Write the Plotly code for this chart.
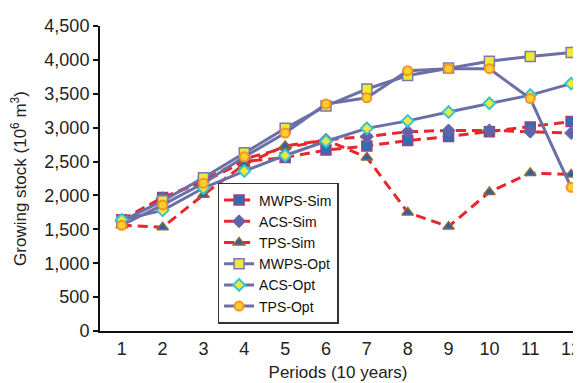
import plotly.graph_objects as go

periods = [1, 2, 3, 4, 5, 6, 7, 8, 9, 10, 11, 12]

mwps_sim = [1640, 1970, 2200, 2500, 2560, 2670, 2730, 2810, 2870, 2940, 3010, 3090]
acs_sim = [1620, 1960, 2220, 2540, 2700, 2820, 2870, 2940, 2960, 2960, 2940, 2920]
tps_sim = [1560, 1530, 2010, 2460, 2730, 2820, 2560, 1750, 1540, 2050, 2330, 2310]
mwps_opt = [1620, 1920, 2260, 2630, 2990, 3320, 3570, 3770, 3880, 3980, 4050, 4110]
acs_opt = [1640, 1780, 2110, 2360, 2590, 2800, 2990, 3100, 3230, 3360, 3480, 3650]
tps_opt = [1560, 1860, 2180, 2570, 2920, 3350, 3440, 3840, 3870, 3870, 3430, 2120]

y_ticks = [0, 500, 1000, 1500, 2000, 2500, 3000, 3500, 4000, 4500]

RED = "#E8262B"
SLATE = "#6B6FA8"
FONT = "Liberation Sans, Arial, sans-serif"

fig = go.Figure()

sim_dash = "10px,6px"

fig.add_trace(go.Scatter(
    x=periods, y=mwps_sim, name="MWPS-Sim", mode="lines+markers",
    line=dict(color=RED, width=3, dash=sim_dash),
    marker=dict(symbol="square", size=10, color="#2F6DB5",
                line=dict(color="#A0407F", width=1.5))))
fig.add_trace(go.Scatter(
    x=periods, y=acs_sim, name="ACS-Sim", mode="lines+markers",
    line=dict(color=RED, width=3, dash=sim_dash),
    marker=dict(symbol="diamond", size=10, color="#5F63A8",
                line=dict(color="#6A6AAE", width=1))))
fig.add_trace(go.Scatter(
    x=periods, y=tps_sim, name="TPS-Sim", mode="lines+markers",
    line=dict(color=RED, width=3, dash=sim_dash),
    marker=dict(symbol="triangle-up", size=10, color="#2E5FA8",
                line=dict(color="#8B6B3D", width=1.5))))
fig.add_trace(go.Scatter(
    x=periods, y=mwps_opt, name="MWPS-Opt", mode="lines+markers",
    line=dict(color=SLATE, width=3),
    marker=dict(symbol="square", size=10, color="#EFE83A",
                line=dict(color="#7A7AB0", width=1.5))))
fig.add_trace(go.Scatter(
    x=periods, y=acs_opt, name="ACS-Opt", mode="lines+markers",
    line=dict(color=SLATE, width=3),
    marker=dict(symbol="diamond", size=9, color="#F2E83A",
                line=dict(color="#35C6D6", width=2))))
fig.add_trace(go.Scatter(
    x=periods, y=tps_opt, name="TPS-Opt", mode="lines+markers",
    line=dict(color=SLATE, width=3),
    marker=dict(symbol="circle", size=9, color="#F8D030",
                line=dict(color="#F7941D", width=2))))

fig.update_layout(
    width=581, height=383,
    margin=dict(l=92, r=8, t=15, b=60),
    paper_bgcolor="white", plot_bgcolor="white",
    font=dict(family=FONT, color="#222222", size=18),
    legend=dict(
        x=0.247, y=0.023, xanchor="left", yanchor="bottom",
        bgcolor="white", bordercolor="#333333", borderwidth=1.5,
        font=dict(family=FONT, size=14, color="#111111"),
        tracegroupgap=0, itemwidth=30,
    ),
    xaxis=dict(
        range=[0.467, 12.12], tickmode="array", tickvals=periods,
        ticktext=[str(p) for p in periods],
        showline=True, linecolor="#111111", linewidth=2,
        ticks="", showgrid=False, zeroline=False,
        ticklabeloverflow="allow",
        tickfont=dict(family=FONT, size=18, color="#222222"),
        title=dict(text="Periods (10 years)", font=dict(family=FONT, size=17, color="#222222"), standoff=9),
    ),
    yaxis=dict(
        range=[0, 4500], tickmode="array", tickvals=y_ticks,
        ticktext=[f"{v:,}" for v in y_ticks],
        showline=True, linecolor="#111111", linewidth=2,
        ticks="outside", ticklen=5, tickwidth=1.5, tickcolor="#111111",
        showgrid=False, zeroline=False,
        tickfont=dict(family=FONT, size=18, color="#222222"),
        title=dict(text="Growing stock (10<sup>6</sup> m<sup>3</sup>)",
                   font=dict(family=FONT, size=17, color="#222222"), standoff=13),
    ),
)

fig.write_html("out.html")
